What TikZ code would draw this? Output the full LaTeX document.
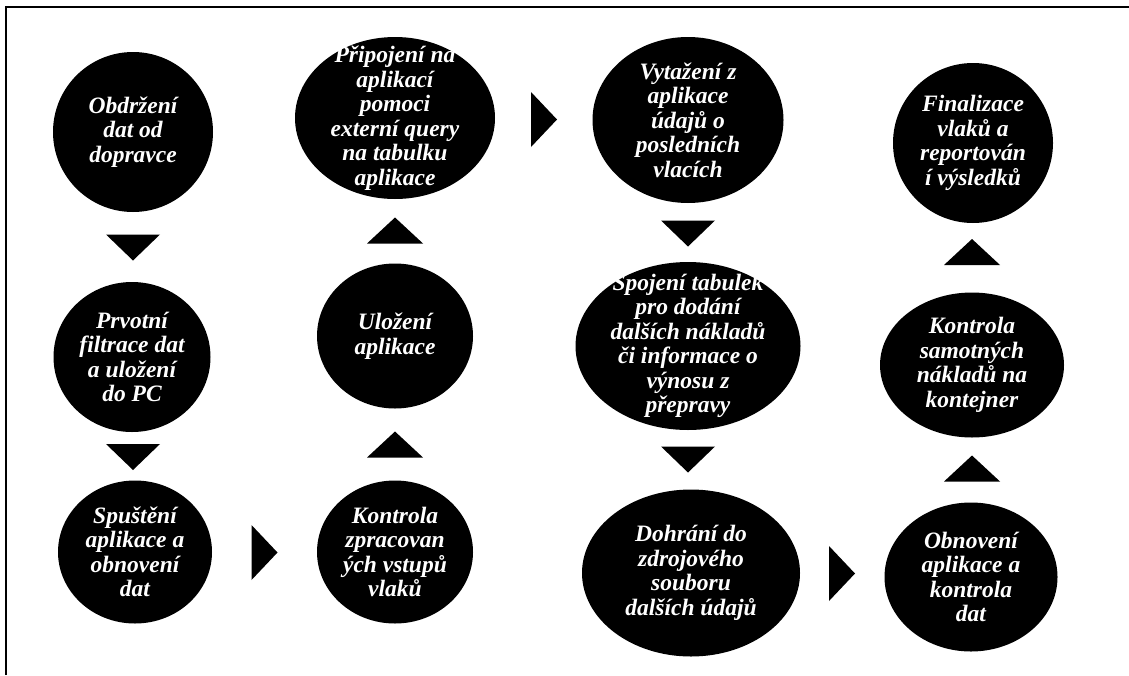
\documentclass[tikz,border=0pt]{standalone}
\usepackage{fontspec}
\setmainfont{Liberation Serif}
\usetikzlibrary{shapes}

\tikzset{
  bubble/.style={draw=none,fill=black,ellipse,inner sep=0pt},
  txt/.style={text=white,align=center,inner sep=0pt,
    font=\fontsize{23.5}{24.5}\selectfont\bfseries\itshape}
}

\begin{document}
\begin{tikzpicture}[x=1pt,y=-1pt]
  \useasboundingbox (0,0) rectangle (1129,675);

  %frame
  \draw[line width=1.5pt] (6,675) -- (6,7) -- (1129,7);

  %first column
  \node[bubble,minimum width=160pt,minimum height=160pt] (obdrzeni) at (133,132) {};
  \node[txt] (obdrzeni-t) at (obdrzeni) {Obdržení\\dat od\\dopravce};
  \node[bubble,minimum width=157pt,minimum height=150pt] (prvotni) at (132,357) {};
  \node[txt] (prvotni-t) at (prvotni) {Prvotní\\filtrace dat\\a uložení\\do PC};
  \node[bubble,minimum width=154pt,minimum height=143pt] (spusteni) at (135,552) {};
  \node[txt] (spusteni-t) at (spusteni) {Spuštění\\aplikace a\\obnovení\\dat};

  %second column
  \node[bubble,minimum width=200pt,minimum height=162pt] (pripojeni) at (395,118) {};
  \node[txt] (pripojeni-t) at (pripojeni) {Připojení na\\aplikací\\pomoci\\externí query\\na tabulku\\aplikace};
  \node[bubble,minimum width=156pt,minimum height=145pt] (ulozeni) at (395,336) {};
  \node[txt] (ulozeni-t) at (ulozeni) {Uložení\\aplikace};
  \node[bubble,minimum width=156pt,minimum height=143pt] (kontrola) at (395,552) {};
  \node[txt] (kontrola-t) at (kontrola) {Kontrola\\zpracovan\\ých vstupů\\vlaků};

  %third column
  \node[bubble,minimum width=191pt,minimum height=166pt] (vytazeni) at (688,120) {};
  \node[txt] (vytazeni-t) at (vytazeni) {Vytažení z\\aplikace\\údajů o\\posledních\\vlacích};
  \node[bubble,minimum width=225pt,minimum height=168pt] (spojeni) at (688,346) {};
  \node[txt] (spojeni-t) at (spojeni) {Spojení tabulek\\pro dodání\\dalších nákladů\\či informace o\\výnosu z\\přepravy};
  \node[bubble,minimum width=218pt,minimum height=167pt] (dohrani) at (691,573) {};
  \node[txt] (dohrani-t) at (dohrani) {Dohrání do\\zdrojového\\souboru\\dalších údajů};

  %fourth column
  \node[bubble,minimum width=160pt,minimum height=160pt] (finalizace) at (973,143) {};
  \node[txt] (finalizace-t) at (finalizace) {Finalizace\\vlaků a\\reportován\\í výsledků};
  \node[bubble,minimum width=184pt,minimum height=145pt] (samotne) at (972,365) {};
  \node[txt] (samotne-t) at (samotne) {Kontrola\\samotných\\nákladů na\\kontejner};
  \node[bubble,minimum width=173pt,minimum height=149pt] (obnoveni) at (971,577) {};
  \node[txt] (obnoveni-t) at (obnoveni) {Obnovení\\aplikace a\\kontrola\\dat};

  %arrows down
  \coordinate (down1) at (133,247.5);
  \coordinate (down2) at (133,457);
  \coordinate (down3) at (688,233.5);
  \coordinate (down4) at (688,459.5);
  \fill (down1) ++(-27,-13) -- ++(54,0) -- ++(-27,26) -- cycle;
  \fill (down2) ++(-27,-13) -- ++(54,0) -- ++(-27,26) -- cycle;
  \fill (down3) ++(-27,-13) -- ++(54,0) -- ++(-27,26) -- cycle;
  \fill (down4) ++(-27,-13) -- ++(54,0) -- ++(-27,26) -- cycle;

  %arrows up
  \coordinate (up1) at (395,230.5);
  \coordinate (up2) at (395,444.5);
  \coordinate (up3) at (972,252);
  \coordinate (up4) at (972,468.5);
  \fill (up1) ++(-28,13) -- ++(56,0) -- ++(-28,-26) -- cycle;
  \fill (up2) ++(-28,13) -- ++(56,0) -- ++(-28,-26) -- cycle;
  \fill (up3) ++(-28,13) -- ++(56,0) -- ++(-28,-26) -- cycle;
  \fill (up4) ++(-28,13) -- ++(56,0) -- ++(-28,-26) -- cycle;

  %arrows right
  \coordinate (right1) at (264.5,552.5);
  \coordinate (right2) at (544,119.5);
  \coordinate (right3) at (842,573.5);
  \fill (right1) ++(-13,-27.5) -- ++(0,55) -- ++(26,-27.5) -- cycle;
  \fill (right2) ++(-13,-27.5) -- ++(0,55) -- ++(26,-27.5) -- cycle;
  \fill (right3) ++(-13,-27.5) -- ++(0,55) -- ++(26,-27.5) -- cycle;
\end{tikzpicture}
\end{document}
